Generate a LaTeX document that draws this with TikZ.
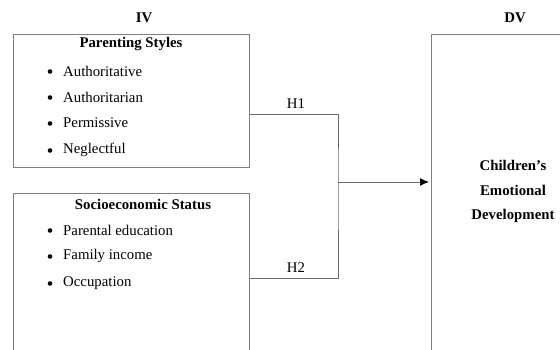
\documentclass[tikz,border=0pt]{standalone}
\usepackage{fontspec}
\setmainfont{Liberation Serif}
\usetikzlibrary{arrows.meta}
\begin{document}
\begin{tikzpicture}[x=1pt,y=-1pt,
  every node/.style={font=\fontsize{14.8}{17}\selectfont, inner sep=0pt},
  frame/.style={draw=black!50, line width=1.2pt, anchor=north west},
  conn/.style={draw=black!58, line width=0.9pt},
  ttl/.style={font=\fontsize{14.8}{17}\selectfont\bfseries},
  item/.style={anchor=west},
  bul/.style={circle, fill=black, minimum size=4.6pt}]
\useasboundingbox (0,0) rectangle (560,350);
\clip (0,0) rectangle (560,350);
% frames
\node[frame, minimum width=236pt, minimum height=133pt] (ps) at (13,34) {};
\node[frame, minimum width=236pt, minimum height=220pt] (ses) at (13,193) {};
\node[frame, minimum width=220pt, minimum height=380pt] (dv) at (431,34) {};
% headers
\node[ttl] (iv) at (144,18) {IV};
\node[ttl] (dvl) at (515,18) {DV};
% parenting styles
\node[ttl] (pst) at (131,44) {Parenting Styles};
\foreach \t/\y/\n in {Authoritative/71/a, Authoritarian/97/b, Permissive/123/c, Neglectful/150/d}{
  \node[bul] (pb\n) at (50,\y+0.5) {};
  \node[item] (pi\n) at (63,\y) {\t};
}
% ses
\node[ttl] (sest) at (143,204) {Socioeconomic Status};
\foreach \t/\y/\n in {Parental education/230/a, Family income/256/b, Occupation/283/c}{
  \node[bul] (sb\n) at (50,\y+0.5) {};
  \node[item] (si\n) at (63,\y) {\t};
}
% dv text
\node[ttl] (c1) at (513,165) {Children’s};
\node[ttl] (c2) at (513,190) {Emotional};
\node[ttl] (c3) at (513,216) {Development};
% connectors
\coordinate (h1) at (249,114);
\coordinate (h2) at (249,278);
\coordinate (jn) at (338,182);
\draw[conn] (ps.east |- h1) -| (jn) |- (ses.east |- h2);
\draw[conn, -{Latex[length=9pt,width=8pt,color=black]}] (jn) -- ([xshift=-2pt]dv.west |- jn);
\node (h1l) at (296,104) {H1};
\node (h2l) at (296,268) {H2};
\end{tikzpicture}
\end{document}
